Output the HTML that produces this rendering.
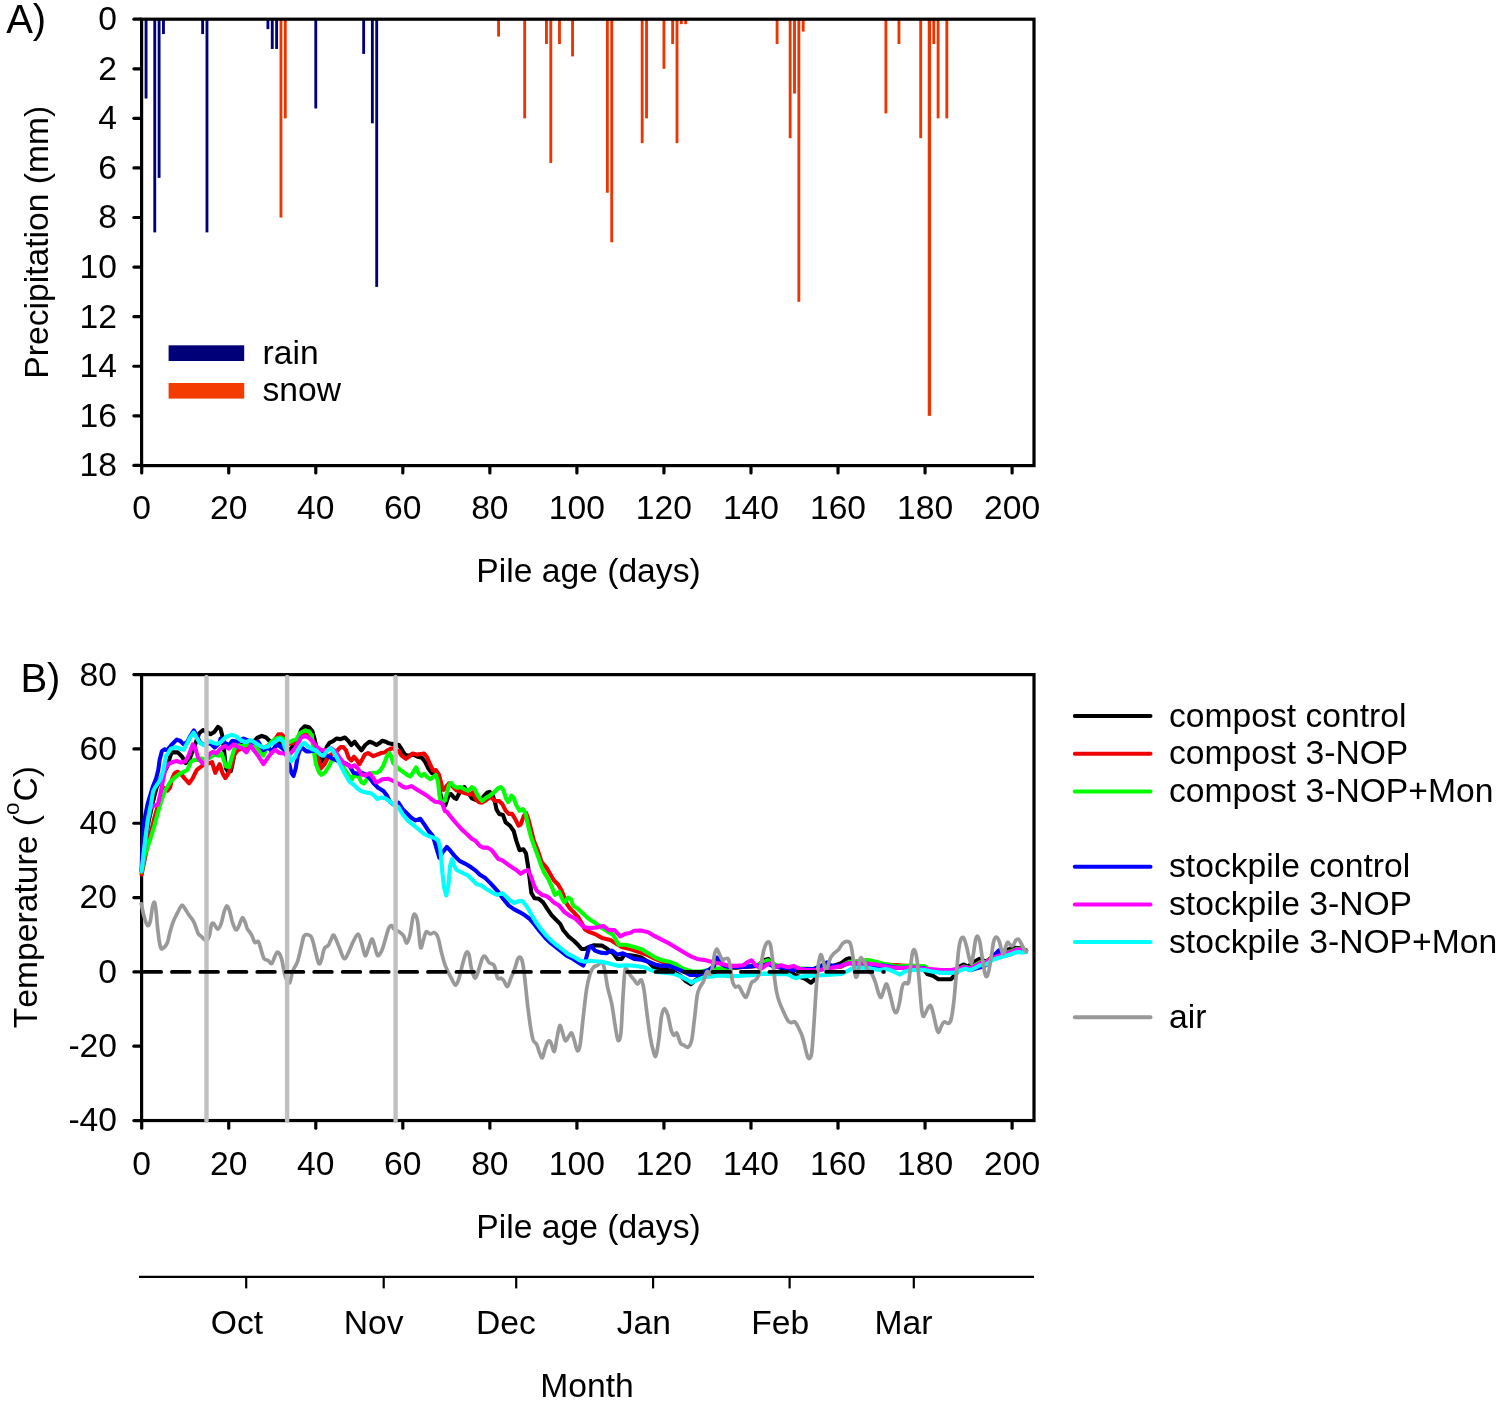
<!DOCTYPE html>
<html lang="en"><head><meta charset="utf-8"><title>Figure</title>
<style>html,body{margin:0;padding:0;background:#fff}svg{display:block}text{font-kerning:none;font-variant-ligatures:none}</style></head>
<body>
<svg width="1498" height="1402" viewBox="0 0 1498 1402" font-family="&quot;Liberation Sans&quot;, sans-serif" font-size="33.65" fill="#000">
<rect width="1498" height="1402" fill="#fff"/>
<rect x="144.63" y="19.2" width="2.85" height="79.33" fill="#000078"/>
<rect x="153.33" y="19.2" width="2.85" height="213.19" fill="#000078"/>
<rect x="157.68" y="19.2" width="2.85" height="158.66" fill="#000078"/>
<rect x="162.03" y="19.2" width="2.85" height="14.87" fill="#000078"/>
<rect x="201.20" y="19.2" width="2.85" height="14.87" fill="#000078"/>
<rect x="205.55" y="19.2" width="2.85" height="213.19" fill="#000078"/>
<rect x="266.48" y="19.2" width="2.85" height="9.92" fill="#000078"/>
<rect x="270.83" y="19.2" width="2.85" height="29.75" fill="#000078"/>
<rect x="275.19" y="19.2" width="2.85" height="29.75" fill="#000078"/>
<rect x="314.35" y="19.2" width="2.85" height="89.24" fill="#000078"/>
<rect x="362.23" y="19.2" width="2.85" height="34.71" fill="#000078"/>
<rect x="370.93" y="19.2" width="2.85" height="104.12" fill="#000078"/>
<rect x="375.28" y="19.2" width="2.85" height="267.73" fill="#000078"/>
<rect x="279.54" y="19.2" width="2.85" height="198.32" fill="#EC3500"/>
<rect x="283.89" y="19.2" width="2.85" height="99.16" fill="#EC3500"/>
<rect x="497.14" y="19.2" width="2.85" height="17.35" fill="#EC3500"/>
<rect x="523.25" y="19.2" width="2.85" height="99.16" fill="#EC3500"/>
<rect x="545.01" y="19.2" width="2.85" height="24.79" fill="#EC3500"/>
<rect x="549.36" y="19.2" width="2.85" height="143.78" fill="#EC3500"/>
<rect x="558.07" y="19.2" width="2.85" height="24.79" fill="#EC3500"/>
<rect x="571.12" y="19.2" width="2.85" height="37.19" fill="#EC3500"/>
<rect x="605.94" y="19.2" width="2.85" height="173.53" fill="#EC3500"/>
<rect x="610.29" y="19.2" width="2.85" height="223.11" fill="#EC3500"/>
<rect x="640.76" y="19.2" width="2.85" height="123.95" fill="#EC3500"/>
<rect x="645.11" y="19.2" width="2.85" height="99.16" fill="#EC3500"/>
<rect x="662.52" y="19.2" width="2.85" height="49.58" fill="#EC3500"/>
<rect x="671.22" y="19.2" width="2.85" height="24.79" fill="#EC3500"/>
<rect x="675.57" y="19.2" width="2.85" height="123.95" fill="#EC3500"/>
<rect x="679.92" y="19.2" width="2.85" height="4.96" fill="#EC3500"/>
<rect x="684.28" y="19.2" width="2.85" height="4.96" fill="#EC3500"/>
<rect x="775.67" y="19.2" width="2.85" height="24.79" fill="#EC3500"/>
<rect x="788.72" y="19.2" width="2.85" height="118.99" fill="#EC3500"/>
<rect x="793.08" y="19.2" width="2.85" height="74.37" fill="#EC3500"/>
<rect x="797.43" y="19.2" width="2.85" height="282.61" fill="#EC3500"/>
<rect x="801.78" y="19.2" width="2.85" height="12.39" fill="#EC3500"/>
<rect x="884.47" y="19.2" width="2.85" height="94.20" fill="#EC3500"/>
<rect x="897.52" y="19.2" width="2.85" height="24.79" fill="#EC3500"/>
<rect x="919.28" y="19.2" width="2.85" height="118.99" fill="#EC3500"/>
<rect x="927.74" y="19.2" width="3.35" height="396.64" fill="#EC3500"/>
<rect x="932.34" y="19.2" width="2.85" height="24.79" fill="#EC3500"/>
<rect x="936.69" y="19.2" width="2.85" height="99.16" fill="#EC3500"/>
<rect x="945.39" y="19.2" width="2.85" height="99.16" fill="#EC3500"/>
<rect x="141.6" y="19.2" width="892.40" height="446.40" fill="none" stroke="#000" stroke-width="3.2"/>
<line x1="133.89999999999998" y1="19.20" x2="140.7" y2="19.20" stroke="#000" stroke-width="3.2" stroke-linecap="round"/>
<text x="117" y="30.10" text-anchor="end">0</text>
<line x1="133.89999999999998" y1="68.78" x2="140.7" y2="68.78" stroke="#000" stroke-width="3.2" stroke-linecap="round"/>
<text x="117" y="79.68" text-anchor="end">2</text>
<line x1="133.89999999999998" y1="118.36" x2="140.7" y2="118.36" stroke="#000" stroke-width="3.2" stroke-linecap="round"/>
<text x="117" y="129.26" text-anchor="end">4</text>
<line x1="133.89999999999998" y1="167.94" x2="140.7" y2="167.94" stroke="#000" stroke-width="3.2" stroke-linecap="round"/>
<text x="117" y="178.84" text-anchor="end">6</text>
<line x1="133.89999999999998" y1="217.52" x2="140.7" y2="217.52" stroke="#000" stroke-width="3.2" stroke-linecap="round"/>
<text x="117" y="228.42" text-anchor="end">8</text>
<line x1="133.89999999999998" y1="267.10" x2="140.7" y2="267.10" stroke="#000" stroke-width="3.2" stroke-linecap="round"/>
<text x="117" y="278.00" text-anchor="end">10</text>
<line x1="133.89999999999998" y1="316.68" x2="140.7" y2="316.68" stroke="#000" stroke-width="3.2" stroke-linecap="round"/>
<text x="117" y="327.58" text-anchor="end">12</text>
<line x1="133.89999999999998" y1="366.26" x2="140.7" y2="366.26" stroke="#000" stroke-width="3.2" stroke-linecap="round"/>
<text x="117" y="377.16" text-anchor="end">14</text>
<line x1="133.89999999999998" y1="415.84" x2="140.7" y2="415.84" stroke="#000" stroke-width="3.2" stroke-linecap="round"/>
<text x="117" y="426.74" text-anchor="end">16</text>
<line x1="133.89999999999998" y1="465.42" x2="140.7" y2="465.42" stroke="#000" stroke-width="3.2" stroke-linecap="round"/>
<text x="117" y="476.32" text-anchor="end">18</text>
<line x1="141.70" y1="466.6" x2="141.70" y2="473.0" stroke="#000" stroke-width="3.2" stroke-linecap="round"/>
<text x="141.70" y="519.1" text-anchor="middle">0</text>
<line x1="228.74" y1="466.6" x2="228.74" y2="473.0" stroke="#000" stroke-width="3.2" stroke-linecap="round"/>
<text x="228.74" y="519.1" text-anchor="middle">20</text>
<line x1="315.78" y1="466.6" x2="315.78" y2="473.0" stroke="#000" stroke-width="3.2" stroke-linecap="round"/>
<text x="315.78" y="519.1" text-anchor="middle">40</text>
<line x1="402.82" y1="466.6" x2="402.82" y2="473.0" stroke="#000" stroke-width="3.2" stroke-linecap="round"/>
<text x="402.82" y="519.1" text-anchor="middle">60</text>
<line x1="489.86" y1="466.6" x2="489.86" y2="473.0" stroke="#000" stroke-width="3.2" stroke-linecap="round"/>
<text x="489.86" y="519.1" text-anchor="middle">80</text>
<line x1="576.90" y1="466.6" x2="576.90" y2="473.0" stroke="#000" stroke-width="3.2" stroke-linecap="round"/>
<text x="576.90" y="519.1" text-anchor="middle">100</text>
<line x1="663.94" y1="466.6" x2="663.94" y2="473.0" stroke="#000" stroke-width="3.2" stroke-linecap="round"/>
<text x="663.94" y="519.1" text-anchor="middle">120</text>
<line x1="750.98" y1="466.6" x2="750.98" y2="473.0" stroke="#000" stroke-width="3.2" stroke-linecap="round"/>
<text x="750.98" y="519.1" text-anchor="middle">140</text>
<line x1="838.02" y1="466.6" x2="838.02" y2="473.0" stroke="#000" stroke-width="3.2" stroke-linecap="round"/>
<text x="838.02" y="519.1" text-anchor="middle">160</text>
<line x1="925.06" y1="466.6" x2="925.06" y2="473.0" stroke="#000" stroke-width="3.2" stroke-linecap="round"/>
<text x="925.06" y="519.1" text-anchor="middle">180</text>
<line x1="1012.10" y1="466.6" x2="1012.10" y2="473.0" stroke="#000" stroke-width="3.2" stroke-linecap="round"/>
<text x="1012.10" y="519.1" text-anchor="middle">200</text>
<text x="588.5" y="581.7" text-anchor="middle">Pile age (days)</text>
<text transform="translate(47.5,242.2) rotate(-90)" text-anchor="middle">Precipitation (mm)</text>
<text x="6.2" y="33.1" font-size="40">A)</text>
<rect x="168.6" y="345.3" width="75.6" height="15.7" fill="#000078"/>
<rect x="168.6" y="383" width="75.6" height="15.6" fill="#F43C00"/>
<text x="262.5" y="363.8">rain</text>
<text x="262.5" y="401.3">snow</text>
<rect x="141.6" y="674.62" width="892.40" height="445.92" fill="none" stroke="#000" stroke-width="3.2"/>
<path d="M141.3,903.8C141.8,905.9 143.0,912.8 144.1,916.5C145.1,920.1 146.6,924.9 147.6,925.6C148.7,926.3 149.6,923.8 150.4,920.7C151.2,917.5 151.8,909.7 152.5,906.6C153.2,903.6 154.0,901.7 154.6,902.4C155.2,903.1 155.4,905.7 156.0,910.8C156.6,916.0 157.4,927.5 158.2,933.3C158.9,939.1 159.5,943.3 160.2,945.9C160.9,948.5 161.2,949.2 162.3,948.7C163.5,948.2 166.0,945.9 167.2,943.1C168.5,940.3 169.0,935.6 170.0,931.9C171.1,928.1 172.1,924.2 173.6,920.7C175.0,917.2 177.1,913.4 178.5,910.8C179.9,908.3 180.8,905.5 182.0,905.2C183.1,905.0 184.3,907.8 185.5,909.4C186.6,911.1 187.6,912.9 189.0,915.0C190.4,917.2 192.4,919.0 193.9,922.1C195.4,925.1 196.9,931.0 198.1,933.3C199.3,935.6 200.0,935.1 200.9,936.1C201.8,937.0 202.8,938.2 203.7,938.9C204.7,939.6 205.6,940.7 206.5,940.3C207.4,939.8 208.5,938.6 209.3,936.1C210.1,933.5 210.7,927.0 211.4,924.9C212.1,922.7 212.5,922.7 213.5,923.4C214.6,924.1 216.4,929.1 217.7,929.1C219.0,929.1 220.2,926.2 221.2,923.4C222.3,920.6 223.1,915.2 224.0,912.3C225.0,909.3 225.9,906.2 226.8,905.9C227.8,905.7 228.7,908.2 229.6,910.8C230.5,913.5 231.4,918.9 232.4,922.1C233.5,925.2 234.9,929.1 235.9,929.8C237.0,930.5 237.7,928.2 238.7,926.3C239.8,924.3 241.2,918.6 242.2,917.9C243.3,917.2 244.2,920.3 245.1,922.1C245.9,923.8 246.1,926.2 247.1,928.3C248.2,930.4 250.1,932.3 251.4,934.7C252.7,937.0 253.7,941.2 254.9,942.4C256.0,943.6 257.3,940.4 258.4,941.7C259.4,943.0 260.2,947.3 261.2,950.1C262.1,952.9 262.8,956.8 264.0,958.5C265.2,960.3 266.9,959.8 268.2,960.6C269.5,961.4 270.5,964.2 271.7,963.4C272.9,962.6 274.1,957.6 275.2,955.7C276.2,953.8 277.0,951.7 278.0,952.2C279.1,952.7 280.4,955.1 281.5,958.5C282.5,961.9 283.4,968.8 284.3,972.5C285.3,976.3 286.2,979.3 287.1,980.9C288.0,982.6 289.0,984.0 289.9,982.3C290.9,980.7 291.4,974.6 292.7,971.1C294.0,967.6 296.2,965.3 297.6,961.3C299.0,957.3 300.1,951.5 301.1,947.3C302.2,943.1 302.9,938.2 303.9,936.1C305.0,934.0 306.1,934.4 307.4,934.7C308.7,934.9 310.4,934.9 311.6,937.5C312.9,940.1 314.0,945.8 315.1,950.1C316.3,954.4 317.6,961.8 318.7,963.4C319.7,965.1 320.5,962.3 321.4,959.9C322.4,957.4 323.1,951.2 324.3,948.7C325.4,946.3 327.3,946.8 328.5,945.2C329.7,943.5 330.3,940.5 331.3,938.9C332.2,937.2 332.7,934.0 334.1,935.4C335.4,936.8 337.5,943.4 339.2,947.3C340.9,951.2 342.6,957.6 344.1,958.5C345.6,959.5 346.8,955.7 348.3,952.9C349.8,950.1 351.6,944.8 353.2,941.7C354.8,938.5 356.7,933.7 358.1,934.0C359.5,934.2 360.5,939.5 361.7,943.1C362.8,946.7 364.0,955.0 365.1,955.7C366.3,956.4 367.5,950.1 368.7,947.3C369.8,944.5 371.1,938.9 372.1,938.9C373.2,938.9 374.0,944.5 375.0,947.3C375.9,950.1 376.6,955.2 377.8,955.7C378.9,956.2 380.7,952.9 382.0,950.1C383.3,947.3 384.3,942.6 385.5,938.9C386.6,935.1 387.9,929.9 389.0,927.7C390.0,925.5 390.9,925.3 391.8,925.6C392.6,925.8 392.6,928.0 393.9,929.1C395.2,930.1 397.8,930.7 399.5,931.9C401.1,933.0 402.5,934.2 403.7,936.1C404.9,937.9 405.5,943.3 406.5,943.1C407.6,942.9 409.0,938.9 410.0,934.7C411.0,930.5 412.0,921.3 412.8,917.9C413.6,914.5 414.1,913.6 414.9,914.3C415.7,915.0 416.8,916.6 417.7,922.1C418.6,927.6 419.6,944.3 420.5,947.3C421.5,950.3 422.4,942.8 423.3,940.3C424.3,937.7 425.0,932.9 426.1,931.9C427.3,930.8 428.9,933.8 430.3,934.0C431.7,934.1 433.3,932.0 434.5,932.6C435.8,933.2 436.9,934.1 438.0,937.5C439.2,940.9 440.3,948.0 441.6,952.9C442.8,957.8 444.1,962.7 445.8,966.9C447.4,971.1 449.7,975.1 451.3,978.1C453.0,981.2 454.3,985.1 455.6,985.1C456.9,985.1 457.9,981.6 459.1,978.1C460.3,974.6 461.4,968.3 462.6,964.1C463.7,959.9 465.0,954.6 466.1,952.9C467.1,951.3 468.0,951.5 468.9,954.3C469.8,957.1 470.6,965.7 471.7,969.7C472.7,973.7 474.0,978.1 475.2,978.1C476.4,978.1 477.6,973.0 478.7,969.7C479.9,966.4 481.2,960.7 482.2,958.5C483.2,956.3 483.8,955.7 485.0,956.4C486.2,957.1 487.7,961.2 489.2,962.7C490.7,964.2 492.7,962.9 494.1,965.5C495.5,968.1 496.4,976.0 497.6,978.1C498.8,980.2 500.1,977.7 501.1,978.1C502.2,978.6 502.9,979.5 503.9,980.9C505.0,982.3 506.3,987.0 507.4,986.5C508.6,986.1 509.8,980.9 510.9,978.1C512.1,975.3 513.3,972.9 514.4,969.7C515.6,966.5 516.8,960.9 517.8,958.9C518.8,956.9 519.8,956.8 520.6,957.5C521.4,958.2 522.0,959.6 522.7,963.1C523.4,966.6 524.0,971.5 524.8,978.5C525.6,985.5 526.7,997.2 527.6,1005.2C528.6,1013.1 529.5,1020.4 530.4,1026.2C531.3,1032.0 532.2,1037.2 533.2,1040.2C534.3,1043.2 535.7,1042.3 536.7,1044.4C537.8,1046.5 538.6,1050.6 539.5,1052.8C540.5,1055.0 541.4,1058.4 542.3,1057.7C543.3,1057.0 544.2,1051.3 545.1,1048.6C546.1,1045.9 547.0,1042.7 548.0,1041.6C548.9,1040.6 549.7,1040.6 550.7,1042.3C551.8,1043.9 553.2,1052.2 554.3,1051.4C555.3,1050.6 556.1,1041.7 557.1,1037.4C558.0,1033.1 558.9,1026.2 559.8,1025.5C560.8,1024.8 561.7,1030.6 562.7,1033.2C563.6,1035.7 564.4,1040.4 565.5,1040.9C566.5,1041.4 567.9,1037.3 569.0,1036.0C570.0,1034.7 570.8,1032.2 571.8,1033.2C572.7,1034.1 573.7,1038.7 574.6,1041.6C575.5,1044.5 576.4,1050.3 577.4,1050.7C578.3,1051.2 579.3,1049.7 580.2,1044.4C581.1,1039.1 581.9,1028.3 583.0,1019.2C584.0,1010.1 585.4,997.2 586.5,989.7C587.7,982.3 588.8,978.1 590.0,974.3C591.2,970.6 592.2,968.8 593.5,967.3C594.8,965.8 596.3,966.1 597.7,965.2C599.1,964.2 600.8,960.9 601.9,961.7C603.1,962.5 603.8,965.9 604.7,970.1C605.6,974.3 606.4,981.3 607.5,986.9C608.7,992.5 610.4,997.2 611.7,1003.7C613.0,1010.3 614.2,1020.1 615.2,1026.2C616.3,1032.3 617.1,1039.0 618.0,1040.2C619.0,1041.4 620.0,1040.2 620.9,1033.2C621.7,1026.2 622.2,1008.7 622.9,998.1C623.6,987.6 624.3,974.8 625.0,970.1C625.7,965.4 626.2,969.1 627.2,970.1C628.1,971.0 629.5,974.0 630.6,975.7C631.8,977.3 633.0,978.5 634.2,979.9C635.3,981.3 636.5,984.1 637.7,984.1C638.8,984.1 640.1,979.0 641.2,979.9C642.2,980.9 643.0,984.4 644.0,989.7C644.9,995.1 645.7,1004.2 646.8,1012.1C647.8,1020.1 649.1,1030.6 650.3,1037.4C651.4,1044.2 652.9,1049.8 653.8,1052.8" fill="none" stroke="#999999" stroke-width="3.7" stroke-linejoin="round" stroke-linecap="round"/>
<polyline points="141.6,871.0 142.8,859.9 146.1,836.8 148.8,820.5 152.1,805.9 154.4,795.7 156.5,788.0 158.7,782.8 159.1,781.3 162.8,774.9 167.1,766.9 171.4,752.4 177.8,752.4 182.1,756.7 185.8,763.1 189.6,758.9 194.9,745.0 199.2,733.2 203.0,730.0 206.7,732.1 210.5,734.3 214.2,732.1 217.9,726.8 220.6,728.9 222.2,735.3 223.8,748.2 226.0,768.5 228.1,771.7 230.8,771.2 232.4,764.2 234.5,751.4 237.7,746.0 242.0,745.0 247.4,743.9 252.7,742.8 257.0,738.0 261.8,735.9 266.1,737.5 269.9,741.2 274.1,742.8 279.5,742.8 284.8,746.0 289.3,750.3 293.5,746.0 297.8,738.5 301.1,730.0 304.8,726.2 309.1,727.3 312.3,731.0 314.4,738.5 317.1,750.3 320.3,763.1 323.5,757.8 326.7,747.1 329.4,742.8 333.1,741.2 336.4,738.5 340.6,739.1 344.9,737.5 348.2,740.7 351.3,745.0 354.6,741.7 357.8,746.0 361.5,750.3 365.3,745.0 369.5,741.7 372.7,742.8 376.5,745.0 379.2,743.3 382.4,740.7 385.6,741.7 388.8,743.3 392.0,743.9 399.0,745.0 401.6,749.2 404.9,754.6 408.1,755.7 413.4,754.6 417.7,756.7 422.0,757.8 425.2,762.1 428.4,768.5 431.6,772.8 434.8,774.9 438.2,778.5 440.3,793.5 443.0,803.2 445.2,805.5 448.9,794.6 451.0,794.1 454.3,797.8 456.4,798.8 459.1,793.5 461.7,788.7 464.4,787.1 468.2,792.5 471.9,798.3 475.7,799.9 479.9,801.0 484.2,795.7 487.4,792.5 489.6,791.9 492.8,795.7 495.0,802.1 496.5,809.5 499.2,813.9 503.0,814.9 505.6,822.4 509.9,825.6 513.7,831.0 516.3,840.6 519.5,850.2 523.3,849.2 526.0,853.4 528.1,866.3 529.7,879.1 531.3,892.8 534.5,898.2 538.8,898.7 543.1,902.4 547.3,908.9 551.7,915.3 555.9,919.6 560.2,923.9 563.4,930.3 568.8,936.7 574.1,941.0 578.4,945.3 581.6,949.0 584.8,949.0 589.1,946.9 593.4,945.3 601.9,945.6 607.5,949.1 613.2,953.3 617.3,958.9 621.6,958.9 624.3,954.7 630.0,955.4 635.6,956.1 641.2,957.5 648.2,961.7 653.8,967.3 659.4,969.4 666.4,969.4 673.4,971.5 680.4,975.7 686.0,981.3 690.9,984.1 695.8,979.9 702.8,976.4 711.3,974.3 718.3,970.1 724.6,967.3 729.0,968.4 743.1,967.0 757.1,965.9 764.1,960.3 768.3,958.9 772.5,963.1 778.1,967.0 787.9,969.8 796.3,975.7 804.7,978.5 811.0,982.7 814.5,979.6 818.7,968.4 827.1,967.0 834.1,965.6 841.2,963.1 846.8,958.9 849.6,958.2 852.4,963.1 862.2,961.7 869.2,961.0 876.2,962.4 883.2,965.2 897.3,965.6 911.3,967.0 924.6,970.5 927.3,974.0 932.9,975.7 938.5,979.2 951.1,979.2 956.7,972.9 960.9,965.9 963.7,964.5 968.0,966.6 972.1,963.1 979.2,958.9 986.2,961.7 993.2,956.1 1000.2,951.9 1007.2,949.8 1014.2,947.7 1021.2,948.4 1026.1,950.5" fill="none" stroke="#000000" stroke-width="4.1" stroke-linejoin="round" stroke-linecap="round"/>
<polyline points="141.6,874.5 144.6,859.9 148.0,842.8 151.4,829.9 154.4,817.9 157.4,807.7 161.7,798.3 164.2,788.0 167.7,790.6 170.2,787.1 171.9,779.4 174.5,773.4 177.1,771.7 180.5,773.4 184.8,778.6 189.1,783.3 192.5,778.6 195.9,771.7 197.1,769.6 201.4,766.4 204.5,764.2 209.9,763.1 212.1,762.1 215.2,772.8 219.6,764.2 222.8,773.8 225.4,778.1 228.1,773.8 231.3,766.4 234.5,754.6 237.7,750.3 242.0,748.2 247.4,747.1 252.7,746.0 258.1,747.1 263.4,748.2 268.8,745.0 274.1,740.7 278.4,734.3 281.6,734.3 284.3,736.9 289.3,743.9 293.5,742.8 297.8,739.6 301.1,735.3 304.8,733.2 309.1,734.3 312.8,740.7 317.1,753.5 320.9,768.5 324.6,764.2 328.9,755.7 333.1,753.5 337.5,750.3 340.6,747.1 343.3,747.1 346.0,750.3 348.7,757.8 351.3,760.5 354.0,756.7 356.7,759.9 359.4,764.2 362.0,759.9 364.7,754.6 368.0,753.0 370.6,754.6 373.3,756.2 377.1,754.6 381.3,753.0 384.5,752.4 387.7,750.3 390.9,748.7 392.5,748.2 399.0,751.4 401.6,755.7 406.0,758.9 409.1,756.7 412.4,753.5 416.6,754.6 420.9,754.0 424.1,753.5 427.3,757.8 430.5,765.3 433.2,770.6 435.9,770.1 439.1,774.9 441.8,785.6 443.4,789.9 445.0,788.8 445.7,787.1 448.9,783.4 452.1,786.0 456.4,790.3 460.7,791.9 466.1,793.5 470.3,794.6 472.5,792.5 475.7,798.8 478.9,802.1 482.1,802.6 486.4,799.9 490.6,796.7 495.0,801.0 499.2,801.0 502.4,804.2 505.6,810.6 508.8,813.9 512.1,813.9 515.3,819.2 518.5,825.6 520.6,824.6 523.8,816.0 526.0,812.8 528.4,819.2 530.6,827.8 533.8,840.6 538.1,851.3 541.6,862.0 546.3,867.4 549.5,872.7 553.8,880.2 558.1,884.5 561.3,890.0 563.4,894.9 566.6,903.5 569.8,908.3 574.1,912.6 578.4,917.4 582.7,924.9 584.8,929.2 589.1,931.9 595.0,934.0 601.9,937.9 610.3,939.9 615.9,943.5 621.6,947.0 630.0,949.1 638.4,951.9 646.8,954.7 655.2,958.9 663.6,962.4 670.6,964.5 677.6,967.3 684.7,970.1 691.7,972.2 700.1,972.2 711.3,970.1 724.6,968.7 729.0,967.7 743.1,966.7 757.1,965.9 764.1,962.4 768.3,961.7 772.5,964.5 778.1,966.3 787.9,968.1 799.1,968.9 813.1,969.5 827.1,968.0 841.2,966.6 849.6,962.4 855.2,961.7 862.2,960.6 869.2,960.6 876.2,962.4 883.2,964.2 897.3,965.3 911.3,966.0 924.6,966.7 930.1,970.4 941.3,972.0 951.1,972.5 958.1,969.7 963.7,966.9 970.8,968.3 975.0,965.5 980.5,962.1 986.2,961.7 991.8,957.7 997.4,955.7 1004.4,953.5 1011.4,951.5 1017.0,949.1 1022.6,949.3 1026.1,950.2" fill="none" stroke="#F00000" stroke-width="4.1" stroke-linejoin="round" stroke-linecap="round"/>
<polyline points="141.6,871.9 144.6,855.6 150.5,838.5 154.4,825.6 157.8,812.8 160.8,802.5 163.4,794.8 165.5,789.7 170.2,782.0 174.5,777.7 180.5,773.4 187.4,770.0 190.7,762.1 193.9,759.9 198.1,759.9 201.4,758.3 205.6,759.9 209.9,757.8 214.2,754.6 218.5,755.7 221.7,753.5 223.8,759.9 226.0,766.4 229.2,766.9 231.9,756.7 234.5,748.7 237.7,746.0 242.0,746.0 247.4,745.0 252.7,745.0 258.1,750.3 263.4,755.7 267.7,746.0 272.0,741.2 276.3,738.5 280.5,737.5 284.8,739.6 289.3,742.3 293.5,740.1 296.8,739.1 300.0,733.2 304.8,730.5 309.1,731.6 311.8,735.3 313.9,751.4 316.0,764.2 319.3,772.8 321.4,774.9 324.6,772.8 328.9,766.4 332.1,759.9 336.4,757.8 342.8,766.4 348.2,774.9 351.9,779.2 355.1,773.8 358.9,777.1 361.5,782.4 364.2,783.5 366.9,779.2 369.5,773.8 372.7,772.8 377.1,772.8 380.2,770.6 383.5,765.3 386.7,756.7 389.3,753.0 391.5,756.7 393.1,763.1 398.4,768.5 402.7,771.7 407.0,774.9 410.2,776.5 412.9,772.8 416.1,767.4 418.8,773.8 421.4,776.0 424.1,773.8 427.3,777.1 430.5,779.2 433.2,777.1 435.9,774.9 438.0,781.3 439.6,796.3 441.2,802.7 445.0,800.6 446.8,793.5 448.9,784.9 451.0,782.8 453.7,786.0 456.4,787.6 460.7,787.1 464.4,789.2 468.2,790.8 471.9,787.1 474.6,789.2 477.8,795.7 482.1,801.0 485.3,798.3 489.6,795.7 493.9,792.5 498.1,788.1 500.8,787.1 503.5,790.3 506.2,798.8 508.3,802.1 511.5,795.7 513.7,797.8 516.3,805.3 519.5,810.6 522.8,809.0 525.4,812.8 528.1,825.6 530.8,836.3 534.5,847.0 537.7,855.6 541.0,865.2 544.2,872.7 548.4,879.1 551.7,886.6 554.9,894.9 559.1,891.7 562.4,899.2 564.5,902.4 568.2,897.6 570.9,899.2 573.1,905.6 577.3,908.3 582.7,913.2 587.0,917.4 591.3,920.6 595.0,922.8 601.9,928.1 607.5,931.5 613.2,935.0 618.7,944.8 625.8,944.8 634.2,947.0 641.2,949.1 648.2,953.3 655.2,957.5 662.2,960.3 669.2,961.7 676.2,964.5 683.2,968.7 691.7,971.5 700.1,971.5 708.5,970.1 715.5,968.7 724.6,968.0 729.0,967.7 743.1,966.3 757.1,965.2 764.1,961.7 768.3,960.3 772.5,963.8 778.1,965.6 787.9,967.7 799.1,968.4 813.1,969.1 827.1,967.7 841.2,965.9 849.6,961.7 855.2,961.7 862.2,960.3 869.2,960.3 876.2,961.7 883.2,963.8 897.3,966.6 911.3,965.6 924.6,966.3 930.1,970.1 941.3,971.8 951.1,972.2 958.1,969.4 963.7,966.6 970.8,968.0 975.0,965.2 980.5,962.4 986.2,962.4 991.8,957.5 997.4,955.4 1004.4,953.3 1011.4,951.2 1017.0,948.8 1022.6,949.1 1026.1,950.8" fill="none" stroke="#00FF00" stroke-width="4.1" stroke-linejoin="round" stroke-linecap="round"/>
<polyline points="141.6,871.0 142.0,855.6 144.1,821.4 147.6,804.2 152.7,787.1 156.1,778.6 158.3,770.0 159.6,759.9 161.8,751.4 164.4,749.2 167.1,750.3 171.4,745.0 176.7,739.6 180.0,740.7 183.7,744.4 187.4,741.7 190.7,735.3 193.9,730.5 197.1,736.4 200.3,742.8 204.5,745.0 209.9,742.8 214.7,747.6 219.6,742.8 220.6,738.5 224.9,742.8 229.2,745.0 232.4,740.7 237.7,741.7 243.6,738.5 248.5,740.7 252.7,742.8 258.1,741.7 263.4,750.3 267.7,747.1 272.0,751.4 276.3,745.0 279.5,746.0 284.8,750.3 289.3,764.2 291.4,772.8 293.5,776.0 295.7,768.5 297.8,755.7 301.1,747.1 303.7,749.2 306.4,751.4 309.6,751.4 315.0,750.3 321.4,750.3 326.7,755.7 331.0,757.8 335.3,759.9 340.6,762.1 344.9,763.1 349.2,765.3 353.5,772.8 357.8,773.8 362.0,772.8 366.4,774.9 370.6,779.2 373.8,783.5 378.1,787.8 383.5,791.0 386.7,795.2 389.9,801.7 393.1,804.3 398.4,802.7 402.7,809.2 407.0,813.4 411.3,817.7 415.6,820.4 420.4,818.8 424.1,824.2 428.4,830.6 432.7,835.9 434.8,842.3 437.0,849.8 439.3,857.7 442.5,852.4 446.8,847.0 450.0,850.2 454.3,855.6 459.6,860.9 465.0,863.6 470.3,866.8 475.7,870.6 479.9,874.8 485.3,878.1 490.6,883.4 498.1,891.7 503.5,899.2 508.8,905.6 514.2,909.4 519.5,912.1 524.9,915.3 529.2,918.5 534.5,924.4 539.9,931.5 545.2,937.7 550.6,942.9 555.9,947.2 561.3,951.5 566.6,955.7 573.1,959.0 578.4,962.6 583.2,965.6 585.9,959.2 589.1,947.4 591.3,946.3 595.0,950.6 600.5,952.6 606.1,953.3 611.7,950.5 617.3,954.7 622.9,953.3 628.6,956.1 634.2,958.9 641.2,959.6 648.2,961.7 655.2,964.5 662.2,965.9 669.2,965.9 676.2,968.7 683.2,971.5 690.2,975.0 697.2,975.0 702.8,972.2 708.5,970.1 714.1,965.9 716.9,957.5 720.4,963.1 724.6,965.9 729.0,967.0 743.1,967.0 757.1,965.6 764.1,965.2 768.3,963.8 772.5,965.9 778.1,967.0 787.9,968.4 793.5,970.5 799.1,969.1 813.1,969.1 821.5,965.6 827.1,962.4 831.4,965.9 841.2,965.6 849.6,963.1 855.2,963.8 862.2,963.8 869.2,964.5 876.2,965.9 883.2,965.6 897.3,967.7 911.3,967.7 924.6,968.4 930.1,970.8 941.3,972.6 951.1,972.9 958.1,970.1 963.7,968.0 970.8,970.1 975.0,968.7 980.5,967.3 986.2,965.2 990.4,960.3 994.6,954.7 998.8,950.5 1000.9,954.0 1005.8,955.4 1011.4,954.0 1017.0,951.2 1022.6,951.9 1026.1,951.6" fill="none" stroke="#0000FF" stroke-width="4.1" stroke-linejoin="round" stroke-linecap="round"/>
<polyline points="141.6,871.0 142.4,864.2 145.4,838.5 147.6,821.4 150.1,808.5 154.4,805.3 157.8,804.7 160.0,795.7 161.7,787.1 163.4,778.6 165.1,770.0 165.5,768.5 168.2,764.2 172.5,762.1 176.7,761.0 181.0,762.6 185.3,761.5 188.5,755.7 192.8,744.4 195.4,748.2 198.1,757.8 201.4,762.1 204.5,764.2 209.9,753.5 213.1,751.9 216.3,753.5 220.6,748.7 224.9,746.0 228.7,748.7 233.4,744.4 237.7,747.1 242.0,748.2 246.3,752.4 250.6,745.5 253.8,750.3 258.1,755.7 263.4,764.2 267.7,757.8 272.0,752.4 275.2,749.8 279.5,753.0 283.7,753.5 289.3,754.6 293.5,750.3 297.8,743.9 301.1,737.5 304.8,735.9 309.1,738.0 312.8,741.7 317.1,747.1 321.4,750.3 326.7,750.3 331.0,748.2 335.3,751.4 339.6,757.8 343.9,763.1 348.2,765.3 351.3,766.9 354.6,765.3 357.8,768.5 361.5,774.4 365.3,775.4 369.5,773.3 372.7,777.1 376.0,782.4 379.2,781.3 382.4,779.2 387.7,778.7 392.0,780.3 398.4,783.5 402.7,786.7 406.0,787.8 411.3,786.1 415.6,788.8 420.9,792.0 426.3,795.2 430.5,798.5 434.8,801.7 439.1,802.2 442.3,803.8 445.0,811.3 446.8,811.7 451.0,817.1 456.4,823.5 461.7,829.4 467.1,834.2 471.4,838.5 475.7,841.1 479.9,846.0 483.2,847.6 487.4,847.6 491.7,850.2 495.0,854.5 498.1,858.8 502.4,860.4 506.7,863.6 512.1,867.4 516.3,870.0 520.6,873.8 524.9,871.1 528.1,870.0 531.3,877.0 533.5,884.2 536.7,890.7 542.0,894.9 546.3,896.0 549.5,898.2 553.8,902.4 559.1,905.6 564.5,912.1 569.8,915.8 575.2,918.5 579.5,922.8 583.8,927.0 589.1,928.1 595.0,927.6 597.7,927.3 603.3,925.9 608.9,930.1 614.5,930.1 620.2,936.4 625.8,933.7 630.0,933.0 634.2,930.8 641.2,930.6 648.2,932.3 655.2,936.4 662.2,939.9 669.2,943.5 676.2,947.7 683.2,951.9 690.2,956.1 697.2,958.9 705.7,960.3 711.3,961.7 716.9,963.1 724.6,964.5 729.0,965.9 736.0,965.9 743.1,965.2 747.2,962.4 751.5,960.3 755.6,965.2 761.3,968.7 766.9,964.5 771.1,963.1 775.3,967.3 780.9,965.2 787.9,967.3 793.5,965.9 799.1,968.7 806.1,970.1 813.1,970.1 820.1,970.1 827.1,968.7 834.1,967.3 841.2,965.9 848.2,963.1 855.2,963.1 862.2,963.1 869.2,963.8 876.2,964.5 883.2,965.9 890.2,967.3 897.3,968.0 904.3,968.0 911.3,967.3 918.3,968.0 924.6,968.7 930.1,969.0 941.3,970.1 951.1,970.1 958.1,968.7 963.7,967.0 970.8,968.4 975.0,965.9 980.5,963.1 986.2,962.4 991.8,958.2 997.4,956.1 1004.4,954.0 1011.4,951.9 1017.0,949.3 1022.6,949.8 1026.1,951.2" fill="none" stroke="#FF00FF" stroke-width="4.1" stroke-linejoin="round" stroke-linecap="round"/>
<polyline points="141.6,871.0 142.4,864.2 145.4,838.5 147.6,821.4 151.0,804.2 153.1,791.4 155.3,787.1 158.3,782.8 160.8,778.6 163.4,770.0 166.0,756.2 170.9,748.7 175.7,747.1 180.0,748.7 183.7,749.8 187.4,742.8 190.7,736.4 193.7,732.6 196.5,737.5 199.8,742.8 203.5,745.0 209.9,741.2 213.1,742.8 216.9,743.9 220.6,742.3 226.0,736.9 231.3,734.8 235.6,735.9 239.9,739.6 245.2,742.3 250.6,740.1 255.9,743.3 260.2,746.0 263.9,747.6 267.7,746.6 274.1,742.3 280.0,738.5 283.2,741.7 284.8,747.1 289.3,756.7 291.4,761.0 294.6,757.8 297.8,750.3 301.1,745.0 304.2,742.8 307.5,746.0 311.8,749.2 316.0,750.3 320.3,754.6 323.5,755.7 326.7,751.4 330.0,748.2 332.6,750.3 336.4,756.7 340.6,765.3 344.9,773.8 349.2,781.3 353.5,784.5 357.8,788.8 362.0,791.5 366.4,792.6 370.6,793.1 373.8,795.2 377.1,799.0 381.3,797.4 385.6,798.5 388.8,800.6 393.1,804.3 398.4,807.0 402.7,814.5 408.1,820.9 413.4,825.2 418.8,829.5 424.1,833.8 429.5,836.5 434.8,838.0 438.0,840.2 440.2,847.7 442.5,873.8 444.1,887.5 446.3,895.5 448.4,885.3 450.0,866.1 452.1,859.1 454.3,866.1 456.4,869.8 462.8,873.0 468.2,875.7 472.5,880.0 476.7,884.2 481.0,885.3 486.4,889.1 491.7,892.3 497.1,894.9 502.4,893.3 505.6,896.0 509.9,900.3 514.2,903.0 519.5,900.9 522.8,901.4 527.0,906.7 531.3,914.2 535.6,921.7 541.0,929.2 546.3,935.6 551.7,941.0 557.0,945.3 562.4,949.5 567.7,953.8 574.1,957.0 579.5,960.2 584.8,961.8 590.2,960.8 595.0,961.3 601.9,961.7 610.3,963.8 618.7,965.9 627.2,965.2 635.6,965.9 644.0,967.3 651.0,970.1 658.0,972.2 666.4,972.9 673.4,973.6 680.4,976.4 687.4,979.9 691.7,982.7 697.2,979.9 704.2,977.1 711.3,976.4 718.3,975.7 724.6,975.7 729.0,976.1 743.1,975.7 757.1,974.7 764.1,973.6 775.3,974.3 787.9,974.3 792.1,976.8 795.6,978.2 801.9,976.4 813.1,975.7 827.1,975.0 841.2,974.0 846.8,971.5 851.0,969.0 855.2,967.8 862.2,967.6 869.2,968.1 876.2,969.4 880.4,970.1 885.3,969.0 890.2,970.1 895.9,972.6 900.0,974.6 904.3,971.8 911.3,970.1 918.3,969.8 924.6,970.1 930.1,971.2 941.3,972.9 951.1,972.9 956.7,972.2 960.9,970.1 965.1,968.7 970.8,970.1 975.0,968.0 980.5,965.2 986.2,964.5 991.8,960.3 997.4,958.2 1004.4,956.1 1011.4,954.0 1017.0,951.9 1022.6,952.6 1026.1,951.9" fill="none" stroke="#00FFFF" stroke-width="4.1" stroke-linejoin="round" stroke-linecap="round"/>
<path d="M653.8,1052.8C654.7,1055.8 655.1,1057.7 655.9,1055.6C656.7,1053.5 657.8,1046.7 658.7,1040.2C659.7,1033.7 660.6,1021.6 661.5,1016.3C662.4,1011.1 663.2,1008.9 664.3,1008.7C665.3,1008.4 666.6,1011.3 667.8,1015.0C669.0,1018.6 670.2,1027.0 671.3,1030.4C672.3,1033.8 673.2,1034.8 674.1,1035.3C675.1,1035.8 675.9,1031.9 676.9,1033.2C678.0,1034.5 679.3,1041.0 680.4,1043.0C681.6,1045.0 682.6,1044.4 683.9,1045.1C685.2,1045.8 686.8,1048.0 688.1,1047.2C689.4,1046.4 690.6,1044.9 691.7,1040.2C692.7,1035.5 693.5,1026.6 694.4,1019.2C695.4,1011.7 696.3,1000.7 697.2,995.3C698.2,990.0 699.0,989.3 700.1,986.9C701.1,984.6 702.4,983.9 703.5,981.3C704.7,978.7 705.9,972.7 707.1,971.5C708.2,970.3 709.6,975.3 710.5,974.3C711.5,973.4 712.0,969.4 712.7,965.9C713.4,962.4 714.1,956.1 714.8,953.3C715.5,950.5 716.0,948.9 716.9,949.1C717.7,949.3 718.8,952.8 719.7,954.7C720.6,956.5 721.6,959.6 722.5,960.3C723.3,961.0 723.9,959.1 724.8,958.9C725.8,958.7 727.4,957.5 728.3,958.9C729.2,960.3 729.7,963.6 730.4,967.3C731.1,971.0 731.7,978.0 732.5,981.3C733.3,984.6 734.3,986.1 735.3,986.9C736.4,987.7 737.7,985.3 738.8,986.2C740.0,987.1 741.2,990.7 742.3,992.5C743.5,994.4 744.8,997.7 745.8,997.4C746.9,997.2 747.7,993.6 748.6,991.1C749.6,988.7 750.4,984.5 751.5,982.7C752.5,981.0 753.8,981.8 754.9,980.6C756.1,979.4 757.4,978.6 758.5,975.7C759.5,972.8 760.3,967.5 761.3,963.1C762.2,958.7 763.0,952.6 764.1,949.1C765.1,945.6 766.5,942.8 767.6,942.1C768.6,941.4 769.6,942.0 770.4,944.8C771.2,947.7 771.8,953.3 772.5,958.9C773.2,964.5 773.9,972.9 774.6,978.5C775.3,984.1 775.9,988.6 776.7,992.5C777.5,996.5 778.3,999.1 779.5,1002.3C780.7,1005.6 782.3,1009.1 783.7,1012.1C785.1,1015.2 786.6,1018.8 787.9,1020.6C789.2,1022.3 790.2,1022.4 791.4,1022.7C792.6,1022.9 793.6,1020.9 794.9,1022.0C796.2,1023.0 797.8,1026.4 799.1,1029.0C800.4,1031.5 801.6,1034.1 802.6,1037.4C803.7,1040.6 804.6,1045.4 805.4,1048.6C806.2,1051.8 806.8,1054.7 807.5,1056.3C808.2,1058.0 808.9,1059.0 809.6,1058.4C810.3,1057.8 811.0,1058.2 811.7,1052.8C812.4,1047.4 813.1,1036.5 813.8,1026.2C814.5,1015.9 815.3,1000.9 816.0,991.1C816.7,981.3 817.3,973.1 818.0,967.3C818.7,961.5 819.6,958.1 820.1,956.1C820.7,954.1 820.9,954.2 821.5,955.4C822.1,956.5 823.0,960.6 823.7,963.1C824.4,965.5 825.1,969.6 825.7,970.1C826.4,970.5 827.0,968.0 827.8,965.9C828.7,963.8 829.6,959.6 830.7,957.5C831.7,955.4 832.9,954.6 834.1,953.3C835.4,952.0 837.0,951.4 838.4,949.8C839.8,948.1 841.2,944.9 842.6,943.5C844.0,942.1 845.5,941.4 846.8,941.4C848.1,941.4 849.4,941.5 850.3,943.5C851.2,945.5 851.7,948.8 852.4,953.3C853.1,957.7 853.9,966.1 854.5,970.1C855.1,974.0 855.3,976.6 855.9,977.1C856.5,977.6 857.3,975.9 858.0,972.9C858.7,969.9 859.4,961.2 860.1,958.9C860.8,956.6 861.4,958.2 862.2,958.9C863.0,959.6 864.1,961.2 865.0,963.1C865.9,965.0 866.7,968.2 867.8,970.1C869.0,971.9 870.7,972.2 872.0,974.3C873.3,976.4 874.5,979.7 875.5,982.7C876.6,985.7 877.4,990.1 878.3,992.5C879.3,995.0 880.2,997.9 881.1,997.4C882.1,997.0 883.0,992.0 883.9,989.7C884.9,987.5 885.7,983.2 886.7,984.1C887.8,985.1 889.1,991.1 890.2,995.3C891.4,999.6 892.7,1006.6 893.7,1009.4C894.8,1012.2 895.6,1013.1 896.6,1012.1C897.5,1011.2 898.4,1008.0 899.3,1003.7C900.3,999.5 901.2,990.4 902.2,986.9C903.1,983.4 903.9,983.4 905.0,982.7C906.0,982.0 907.5,985.5 908.5,982.7C909.4,979.9 909.9,971.0 910.6,965.9C911.3,960.7 912.0,954.4 912.7,951.9C913.4,949.3 914.1,949.3 914.8,950.5C915.5,951.6 916.2,954.2 916.9,958.9C917.6,963.6 918.3,971.0 919.0,978.5C919.7,986.0 920.4,997.4 921.1,1003.7C921.8,1010.1 922.0,1015.6 923.2,1016.3C924.3,1017.0 926.7,1009.7 928.0,1007.9C929.2,1006.2 929.9,1004.7 930.8,1005.9C931.7,1007.0 932.7,1011.4 933.6,1015.0C934.5,1018.6 935.6,1024.6 936.4,1027.6C937.2,1030.5 937.7,1032.7 938.5,1032.5C939.3,1032.2 940.4,1027.9 941.3,1026.2C942.2,1024.4 942.9,1022.4 944.1,1022.0C945.3,1021.5 947.2,1023.8 948.3,1023.4C949.5,1022.9 950.2,1022.9 951.1,1019.2C952.1,1015.4 953.0,1009.1 953.9,1000.9C954.8,992.7 955.9,978.7 956.7,970.1C957.6,961.4 958.1,954.2 958.8,949.1C959.5,943.9 960.1,941.1 960.9,939.2C961.7,937.4 962.8,936.7 963.7,937.9C964.7,939.0 965.6,942.8 966.5,946.3C967.5,949.8 968.5,956.1 969.4,958.9C970.2,961.7 970.8,964.0 971.5,963.1C972.1,962.2 972.8,957.3 973.5,953.3C974.2,949.3 975.0,942.0 975.7,939.2C976.4,936.4 977.1,936.0 977.8,936.4C978.5,936.9 979.1,938.8 979.9,942.1C980.6,945.3 981.2,950.9 982.0,956.1C982.8,961.2 984.0,969.5 984.8,972.9C985.6,976.3 986.2,976.9 986.9,976.4C987.6,975.9 988.2,973.9 989.0,970.1C989.8,966.2 991.0,958.2 991.8,953.3C992.6,948.4 993.0,943.3 993.9,940.6C994.7,938.0 995.8,936.9 996.7,937.2C997.6,937.4 998.7,939.8 999.5,942.1C1000.3,944.3 1000.9,948.5 1001.6,950.5C1002.3,952.4 1003.0,954.7 1003.7,954.0C1004.4,953.3 1005.1,948.2 1005.8,946.3C1006.5,944.3 1007.1,942.2 1007.9,942.1C1008.7,941.9 1009.8,945.1 1010.7,945.6C1011.6,946.0 1012.7,945.7 1013.5,944.8C1014.3,944.0 1014.8,941.6 1015.6,940.6C1016.4,939.7 1017.5,938.8 1018.4,939.2C1019.3,939.7 1020.3,941.8 1021.2,943.5C1022.2,945.1 1023.2,947.7 1024.0,949.1C1024.8,950.5 1025.8,951.4 1026.1,951.9" fill="none" stroke="#999999" stroke-width="3.7" stroke-linejoin="round" stroke-linecap="round"/>
<line x1="206.5" y1="677.02" x2="206.5" y2="1121.04" stroke="#C0C0C0" stroke-width="4.4" stroke-linecap="round"/>
<line x1="287.1" y1="677.02" x2="287.1" y2="1121.04" stroke="#C0C0C0" stroke-width="4.4" stroke-linecap="round"/>
<line x1="395.6" y1="677.02" x2="395.6" y2="1121.04" stroke="#C0C0C0" stroke-width="4.4" stroke-linecap="round"/>
<line x1="143.5" y1="971.9" x2="883.9" y2="971.9" stroke="#000" stroke-width="3.8" stroke-linecap="round" stroke-dasharray="17.6 10.85"/>
<line x1="133.89999999999998" y1="674.62" x2="140.7" y2="674.62" stroke="#000" stroke-width="3.2" stroke-linecap="round"/>
<text x="117" y="685.52" text-anchor="end">80</text>
<line x1="133.89999999999998" y1="748.94" x2="140.7" y2="748.94" stroke="#000" stroke-width="3.2" stroke-linecap="round"/>
<text x="117" y="759.84" text-anchor="end">60</text>
<line x1="133.89999999999998" y1="823.26" x2="140.7" y2="823.26" stroke="#000" stroke-width="3.2" stroke-linecap="round"/>
<text x="117" y="834.16" text-anchor="end">40</text>
<line x1="133.89999999999998" y1="897.58" x2="140.7" y2="897.58" stroke="#000" stroke-width="3.2" stroke-linecap="round"/>
<text x="117" y="908.48" text-anchor="end">20</text>
<line x1="133.89999999999998" y1="971.90" x2="140.7" y2="971.90" stroke="#000" stroke-width="3.2" stroke-linecap="round"/>
<text x="117" y="982.80" text-anchor="end">0</text>
<line x1="133.89999999999998" y1="1046.22" x2="140.7" y2="1046.22" stroke="#000" stroke-width="3.2" stroke-linecap="round"/>
<text x="117" y="1057.12" text-anchor="end">-20</text>
<line x1="133.89999999999998" y1="1120.54" x2="140.7" y2="1120.54" stroke="#000" stroke-width="3.2" stroke-linecap="round"/>
<text x="117" y="1131.44" text-anchor="end">-40</text>
<line x1="141.70" y1="1121.54" x2="141.70" y2="1128.14" stroke="#000" stroke-width="3.2" stroke-linecap="round"/>
<text x="141.70" y="1174.5" text-anchor="middle">0</text>
<line x1="228.74" y1="1121.54" x2="228.74" y2="1128.14" stroke="#000" stroke-width="3.2" stroke-linecap="round"/>
<text x="228.74" y="1174.5" text-anchor="middle">20</text>
<line x1="315.78" y1="1121.54" x2="315.78" y2="1128.14" stroke="#000" stroke-width="3.2" stroke-linecap="round"/>
<text x="315.78" y="1174.5" text-anchor="middle">40</text>
<line x1="402.82" y1="1121.54" x2="402.82" y2="1128.14" stroke="#000" stroke-width="3.2" stroke-linecap="round"/>
<text x="402.82" y="1174.5" text-anchor="middle">60</text>
<line x1="489.86" y1="1121.54" x2="489.86" y2="1128.14" stroke="#000" stroke-width="3.2" stroke-linecap="round"/>
<text x="489.86" y="1174.5" text-anchor="middle">80</text>
<line x1="576.90" y1="1121.54" x2="576.90" y2="1128.14" stroke="#000" stroke-width="3.2" stroke-linecap="round"/>
<text x="576.90" y="1174.5" text-anchor="middle">100</text>
<line x1="663.94" y1="1121.54" x2="663.94" y2="1128.14" stroke="#000" stroke-width="3.2" stroke-linecap="round"/>
<text x="663.94" y="1174.5" text-anchor="middle">120</text>
<line x1="750.98" y1="1121.54" x2="750.98" y2="1128.14" stroke="#000" stroke-width="3.2" stroke-linecap="round"/>
<text x="750.98" y="1174.5" text-anchor="middle">140</text>
<line x1="838.02" y1="1121.54" x2="838.02" y2="1128.14" stroke="#000" stroke-width="3.2" stroke-linecap="round"/>
<text x="838.02" y="1174.5" text-anchor="middle">160</text>
<line x1="925.06" y1="1121.54" x2="925.06" y2="1128.14" stroke="#000" stroke-width="3.2" stroke-linecap="round"/>
<text x="925.06" y="1174.5" text-anchor="middle">180</text>
<line x1="1012.10" y1="1121.54" x2="1012.10" y2="1128.14" stroke="#000" stroke-width="3.2" stroke-linecap="round"/>
<text x="1012.10" y="1174.5" text-anchor="middle">200</text>
<text x="588.5" y="1237.8" text-anchor="middle">Pile age (days)</text>
<text transform="translate(36.9,1028.2) rotate(-90)"><tspan x="0">Temperature (</tspan><tspan x="213.1" dy="-17.5" font-size="22.5">o</tspan><tspan x="226.6" dy="17.5">C)</tspan></text>
<text x="20.4" y="691.5" font-size="40">B)</text>
<line x1="1074.8" y1="716.1" x2="1150.5" y2="716.1" stroke="#000000" stroke-width="4" stroke-linecap="round"/>
<text x="1169" y="726.7">compost control</text>
<line x1="1074.8" y1="753.7" x2="1150.5" y2="753.7" stroke="#F00000" stroke-width="4" stroke-linecap="round"/>
<text x="1169" y="764.3">compost 3-NOP</text>
<line x1="1074.8" y1="791.6" x2="1150.5" y2="791.6" stroke="#00FF00" stroke-width="4" stroke-linecap="round"/>
<text x="1169" y="802.2">compost 3-NOP+Mon</text>
<line x1="1074.8" y1="866.8" x2="1150.5" y2="866.8" stroke="#0000FF" stroke-width="4" stroke-linecap="round"/>
<text x="1169" y="877.4">stockpile control</text>
<line x1="1074.8" y1="904.4" x2="1150.5" y2="904.4" stroke="#FF00FF" stroke-width="4" stroke-linecap="round"/>
<text x="1169" y="915.0">stockpile 3-NOP</text>
<line x1="1074.8" y1="942.0" x2="1150.5" y2="942.0" stroke="#00FFFF" stroke-width="4" stroke-linecap="round"/>
<text x="1169" y="952.6">stockpile 3-NOP+Mon</text>
<line x1="1074.8" y1="1017.2" x2="1150.5" y2="1017.2" stroke="#999999" stroke-width="4" stroke-linecap="round"/>
<text x="1169" y="1027.8">air</text>
<line x1="139" y1="1276.8" x2="1034" y2="1276.8" stroke="#000" stroke-width="2.2"/>
<line x1="246.2" y1="1276.8" x2="246.2" y2="1288.4" stroke="#000" stroke-width="2.2"/>
<text x="236.9" y="1334.1" text-anchor="middle">Oct</text>
<line x1="383.7" y1="1276.8" x2="383.7" y2="1288.4" stroke="#000" stroke-width="2.2"/>
<text x="373.7" y="1334.1" text-anchor="middle">Nov</text>
<line x1="516.2" y1="1276.8" x2="516.2" y2="1288.4" stroke="#000" stroke-width="2.2"/>
<text x="505.9" y="1334.1" text-anchor="middle">Dec</text>
<line x1="653.1" y1="1276.8" x2="653.1" y2="1288.4" stroke="#000" stroke-width="2.2"/>
<text x="643.8" y="1334.1" text-anchor="middle">Jan</text>
<line x1="789.6" y1="1276.8" x2="789.6" y2="1288.4" stroke="#000" stroke-width="2.2"/>
<text x="780.3" y="1334.1" text-anchor="middle">Feb</text>
<line x1="913.8" y1="1276.8" x2="913.8" y2="1288.4" stroke="#000" stroke-width="2.2"/>
<text x="903.5" y="1334.1" text-anchor="middle">Mar</text>
<text x="587" y="1396.9" text-anchor="middle">Month</text>
</svg>
</body></html>
